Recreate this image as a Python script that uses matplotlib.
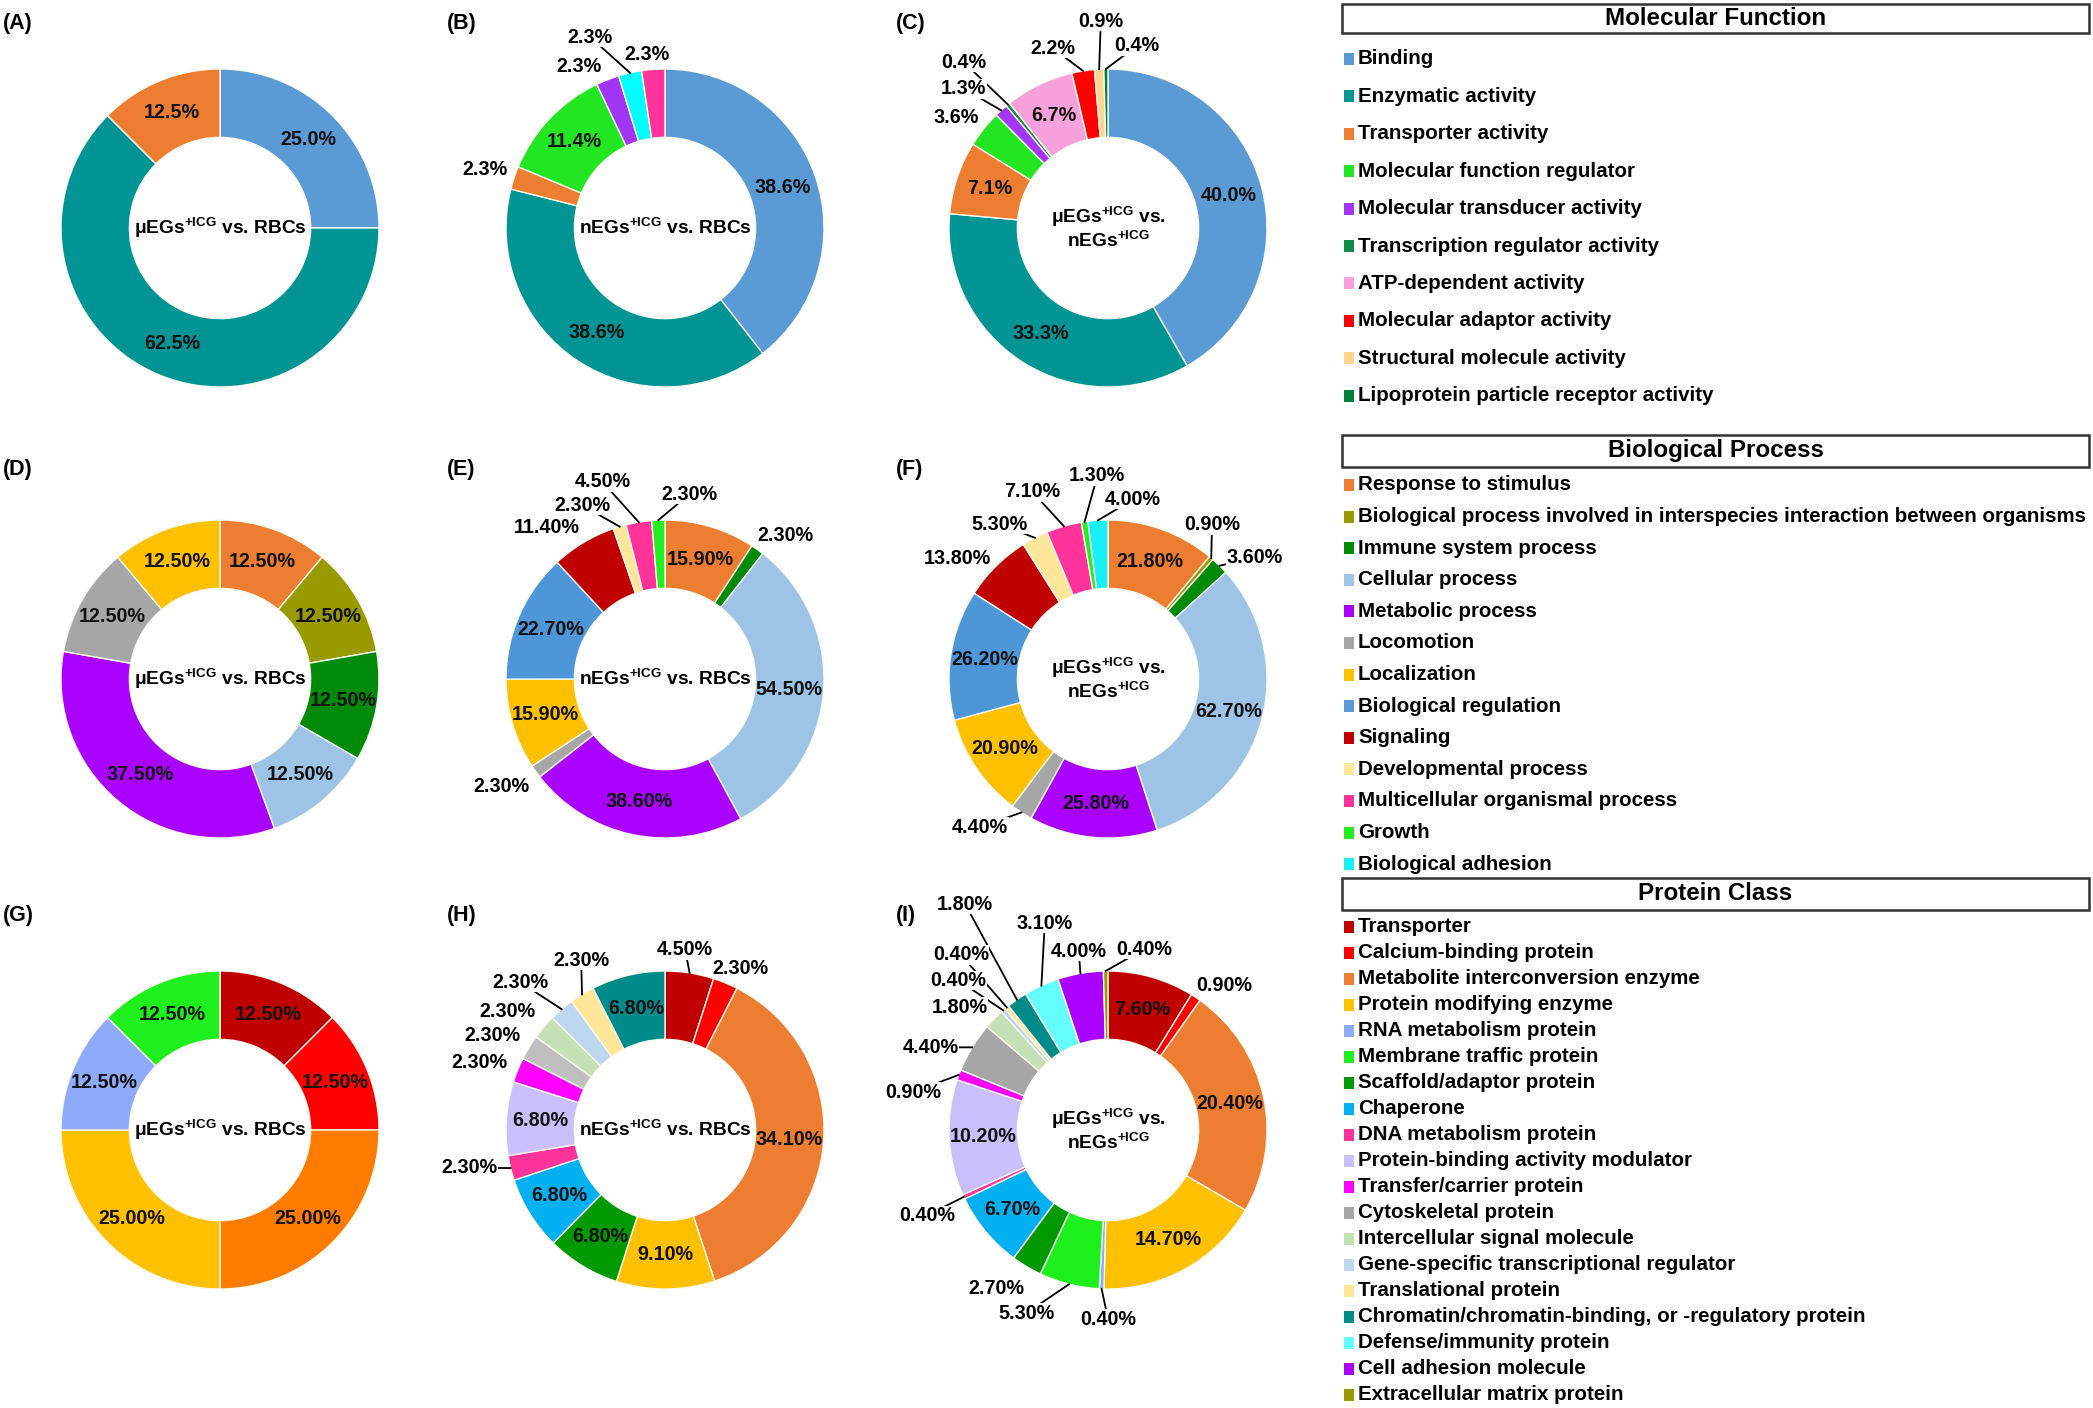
import numpy as np
import matplotlib
matplotlib.use("Agg")
import matplotlib.pyplot as plt
from matplotlib.patches import Rectangle

W, H = 2093, 1408

# ---------------- data ----------------
mf_legend = ["Binding", "Enzymatic activity", "Transporter activity",
             "Molecular function regulator", "Molecular transducer activity",
             "Transcription regulator activity", "ATP-dependent activity",
             "Molecular adaptor activity", "Structural molecule activity",
             "Lipoprotein particle receptor activity"]
bp_legend = ["Response to stimulus",
             "Biological process involved in interspecies interaction between organisms",
             "Immune system process", "Cellular process", "Metabolic process",
             "Locomotion", "Localization", "Biological regulation", "Signaling",
             "Developmental process", "Multicellular organismal process", "Growth",
             "Biological adhesion"]
pc_legend = ["Transporter", "Calcium-binding protein", "Metabolite interconversion enzyme",
             "Protein modifying enzyme", "RNA metabolism protein", "Membrane traffic protein",
             "Scaffold/adaptor protein", "Chaperone", "DNA metabolism protein",
             "Protein-binding activity modulator", "Transfer/carrier protein",
             "Cytoskeletal protein", "Intercellular signal molecule",
             "Gene-specific transcriptional regulator", "Translational protein",
             "Chromatin/chromatin-binding, or -regulatory protein",
             "Defense/immunity protein", "Cell adhesion molecule",
             "Extracellular matrix protein"]

a_cats = ["Binding", "Enzymatic activity", "Transporter activity"]
a_vals = [25.0, 62.5, 12.5]
b_cats = ["Binding", "Enzymatic activity", "Transporter activity",
          "Molecular function regulator", "Molecular transducer activity",
          "Transcription regulator activity", "ATP-dependent activity"]
b_vals = [38.6, 38.6, 2.3, 11.4, 2.3, 2.3, 2.3]
c_cats = mf_legend
c_vals = [40.0, 33.3, 7.1, 3.6, 1.3, 0.4, 6.7, 2.2, 0.9, 0.4]

d_cats = ["Response to stimulus", bp_legend[1], "Immune system process",
          "Cellular process", "Metabolic process", "Locomotion", "Localization"]
d_vals = [12.5, 12.5, 12.5, 12.5, 37.5, 12.5, 12.5]
e_cats = ["Response to stimulus", "Immune system process", "Cellular process",
          "Metabolic process", "Locomotion", "Localization", "Biological regulation",
          "Signaling", "Developmental process", "Multicellular organismal process", "Growth"]
e_vals = [15.9, 2.3, 54.5, 38.6, 2.3, 15.9, 22.7, 11.4, 2.3, 4.5, 2.3]
f_cats = bp_legend
f_vals = [21.8, 0.9, 3.6, 62.7, 25.8, 4.4, 20.9, 26.2, 13.8, 5.3, 7.1, 1.3, 4.0]

g_cats = ["Transporter", "Calcium-binding protein", "Metabolite interconversion enzyme",
          "Protein modifying enzyme", "RNA metabolism protein", "Membrane traffic protein"]
g_vals = [12.5, 12.5, 25.0, 25.0, 12.5, 12.5]
h_cats = ["Transporter", "Calcium-binding protein", "Metabolite interconversion enzyme",
          "Protein modifying enzyme", "Scaffold/adaptor protein", "Chaperone",
          "DNA metabolism protein", "Protein-binding activity modulator",
          "Transfer/carrier protein", "Cytoskeletal protein",
          "Intercellular signal molecule", "Gene-specific transcriptional regulator",
          "Translational protein", "Chromatin/chromatin-binding, or -regulatory protein"]
h_vals = [4.5, 2.3, 34.1, 9.1, 6.8, 6.8, 2.3, 6.8, 2.3, 2.3, 2.3, 2.3, 2.3, 6.8]
i_cats = pc_legend
i_vals = [7.6, 0.9, 20.4, 14.7, 0.4, 5.3, 2.7, 6.7, 0.4, 10.2, 0.9, 4.4, 1.8,
          0.4, 0.4, 1.8, 3.1, 4.0, 0.4]

# ---------------- colours ----------------
mf_colors = dict(zip(mf_legend, ["#5B9BD5", "#009494", "#ED7D31", "#22E622", "#A335F5",
                                 "#128A4A", "#F7A1DC", "#FF0000", "#FFD68F", "#00803C"]))
bp_colors = dict(zip(bp_legend, ["#ED7D31", "#999900", "#008A0A", "#9DC3E6", "#AA00FF",
                                 "#A6A6A6", "#FFC000", "#5B9BD5", "#C00000", "#FFE699",
                                 "#FF3399", "#22EE22", "#18F0F8"]))
pc_colors = dict(zip(pc_legend, ["#C00000", "#FF0000", "#ED7D31", "#FFC000", "#8FAAFA",
                                 "#1EF01E", "#009900", "#00B0F0", "#FF3399", "#CBBFFB",
                                 "#FF00FF", "#A6A6A6", "#C5E0B4", "#BDD7EE", "#FFE699",
                                 "#008B8B", "#66FFFF", "#AA00FF", "#999900"]))

FONT = "Liberation Sans"
plt.rcParams["font.family"] = [FONT, "DejaVu Sans"]
plt.rcParams["font.weight"] = "bold"
plt.rcParams["mathtext.fontset"] = "custom"
plt.rcParams["mathtext.rm"] = FONT + ":bold"
plt.rcParams["mathtext.default"] = "regular"

PCT = 14.2     # percent labels
CEN = 13.8     # centre text
LEG = 14.8     # legend items
TTL = 17.4     # legend titles
LET = 15.5     # panel letters

R = 159          # donut radius in px
L = 1.7          # axes half-span in radius units
S = 2 * L * R
col_x = [220, 665, 1108]
row_y = [228, 679, 1130]

mu_rbc = "μEGs$^{+ICG}$ vs. RBCs"
n_rbc = "nEGs$^{+ICG}$ vs. RBCs"
mu_n = "μEGs$^{+ICG}$ vs.\nnEGs$^{+ICG}$"

# outside label layout: slice index -> (angle clockwise from top, radius, leader)
outside = {
    "B": {2: (288, 1.19, 0), 4: (332, 1.15, 0), 5: (338.6, 1.29, 1), 6: (354, 1.10, 0)},
    "C": {3: (306, 1.18, 0), 4: (314, 1.26, 1), 5: (319, 1.38, 1), 7: (343, 1.18, 1),
          8: (358, 1.30, 1), 9: (9, 1.16, 1)},
    "E": {1: (40, 1.18, 0), 4: (236.5, 1.23, 0), 7: (322, 1.21, 0), 8: (334.5, 1.21, 1),
          9: (342.4, 1.30, 1), 10: (7.4, 1.17, 1)},
    "F": {1: (34, 1.17, 1), 2: (50.4, 1.20, 1), 5: (220.8, 1.23, 1), 8: (308.6, 1.21, 0),
          9: (325, 1.19, 1), 10: (338, 1.27, 1), 11: (357, 1.28, 1), 12: (8, 1.14, 1)},
    "H": {0: (6.4, 1.14, 1), 1: (25, 1.12, 0), 6: (259, 1.25, 1), 8: (290, 1.24, 0),
          9: (298.7, 1.24, 0), 10: (307, 1.24, 0), 11: (315.6, 1.30, 1), 12: (333.7, 1.19, 1)},
    "I": {1: (38.8, 1.17, 0), 4: (180, 1.19, 1), 5: (204, 1.26, 1), 6: (215, 1.22, 0),
          8: (244.7, 1.26, 1), 10: (281, 1.25, 1), 11: (295, 1.23, 1), 12: (309.6, 1.21, 0),
          13: (315, 1.33, 1), 14: (320, 1.44, 1), 15: (327.7, 1.68, 1), 16: (343, 1.36, 1),
          17: (350.7, 1.14, 1), 18: (11.3, 1.16, 1)},
}

charts = [
    ("A", 0, 0, a_cats, a_vals, mf_colors, {}, "%.1f%%", mu_rbc),
    ("B", 1, 0, b_cats, b_vals, mf_colors,
     {"Transcription regulator activity": "#00FFFF", "ATP-dependent activity": "#FF3399"},
     "%.1f%%", n_rbc),
    ("C", 2, 0, c_cats, c_vals, mf_colors, {}, "%.1f%%", mu_n),
    ("D", 0, 1, d_cats, d_vals, bp_colors, {}, "%.2f%%", mu_rbc),
    ("E", 1, 1, e_cats, e_vals, bp_colors, {"Biological regulation": "#4D96D8"}, "%.2f%%", n_rbc),
    ("F", 2, 1, f_cats, f_vals, bp_colors, {"Biological regulation": "#4D96D8"}, "%.2f%%", mu_n),
    ("G", 0, 2, g_cats, g_vals, pc_colors, {"Metabolite interconversion enzyme": "#FF7C00"},
     "%.2f%%", mu_rbc),
    ("H", 1, 2, h_cats, h_vals, pc_colors, {"Cytoskeletal protein": "#BFBFBF"}, "%.2f%%", n_rbc),
    ("I", 2, 2, i_cats, i_vals, pc_colors, {}, "%.2f%%", mu_n),
]

fig = plt.figure(figsize=(W / 100, H / 100), dpi=100)
fig.patch.set_facecolor("white")

# overlay axes in pixel coords for panel letters and legends
ov = fig.add_axes([0, 0, 1, 1])
ov.set_xlim(0, W)
ov.set_ylim(H, 0)
ov.axis("off")

letter_x = [3, 447, 896]
letter_y = [23, 470, 915]

for key, ci, ri, cats, vals, cmap, over, fmt, center in charts:
    cx, cy = col_x[ci], row_y[ri]
    ax = fig.add_axes([(cx - S / 2) / W, 1 - (cy + S / 2) / H, S / W, S / H])
    cols = [over.get(c, cmap[c]) for c in cats]
    wedges, _ = ax.pie(vals, colors=cols, startangle=90, counterclock=False, radius=1,
                       wedgeprops=dict(width=0.43, edgecolor="#FAFAF0", linewidth=1))
    ax.set_xlim(-L, L)
    ax.set_ylim(-L, L)
    ax.set_aspect("equal")
    ax.axis("off")
    lay = outside.get(key, {})
    for j, (w, v) in enumerate(zip(wedges, vals)):
        mid = np.deg2rad((w.theta1 + w.theta2) / 2)
        txt = fmt % v
        if j in lay:
            ang, r, lead = lay[j]
            t = np.deg2rad(90 - ang)
            lx, ly = r * np.cos(t), r * np.sin(t)
            if lead:
                ax.plot([1.0 * np.cos(mid), lx], [1.0 * np.sin(mid), ly], color="black",
                        lw=1.3, zorder=2)
            ax.text(lx, ly, txt, ha="center", va="center", fontsize=PCT,
                    fontweight="bold", zorder=3,
                    bbox=dict(facecolor="white", edgecolor="none", pad=0.3))
        else:
            ax.text(0.785 * np.cos(mid), 0.785 * np.sin(mid), txt, ha="center",
                    va="center", fontsize=PCT, fontweight="bold", color="#111111")
    ax.text(0, 0, center, ha="center", va="center", fontsize=CEN, fontweight="bold",
            linespacing=1.1)
    ov.text(letter_x[ci], letter_y[ri], "(%s)" % key, ha="left", va="center",
            fontsize=LET, fontweight="bold")

# legends
box_x0, box_x1 = 1342, 2089
groups = [
    ("Molecular Function", mf_legend, mf_colors, (4, 33), 59, 37.4),
    ("Biological Process", bp_legend, bp_colors, (435, 467), 485, 31.6),
    ("Protein Class", pc_legend, pc_colors, (878, 910), 926.5, 26.0),
]
for title, labels, cmap, (by0, by1), y0, step in groups:
    ov.add_patch(Rectangle((box_x0, by0), box_x1 - box_x0, by1 - by0, fill=False,
                           edgecolor="#333333", lw=1.8))
    ov.text((box_x0 + box_x1) / 2, (by0 + by1) / 2, title, ha="center", va="center",
            fontsize=TTL, fontweight="bold")
    for i, lab in enumerate(labels):
        y = y0 + i * step
        ov.add_patch(Rectangle((1344, y - 6), 10, 12, facecolor=cmap[lab], edgecolor="none"))
        ov.text(1358, y, lab, ha="left", va="center", fontsize=LEG, fontweight="bold")

fig.savefig("out.png", dpi=100, facecolor="white")
